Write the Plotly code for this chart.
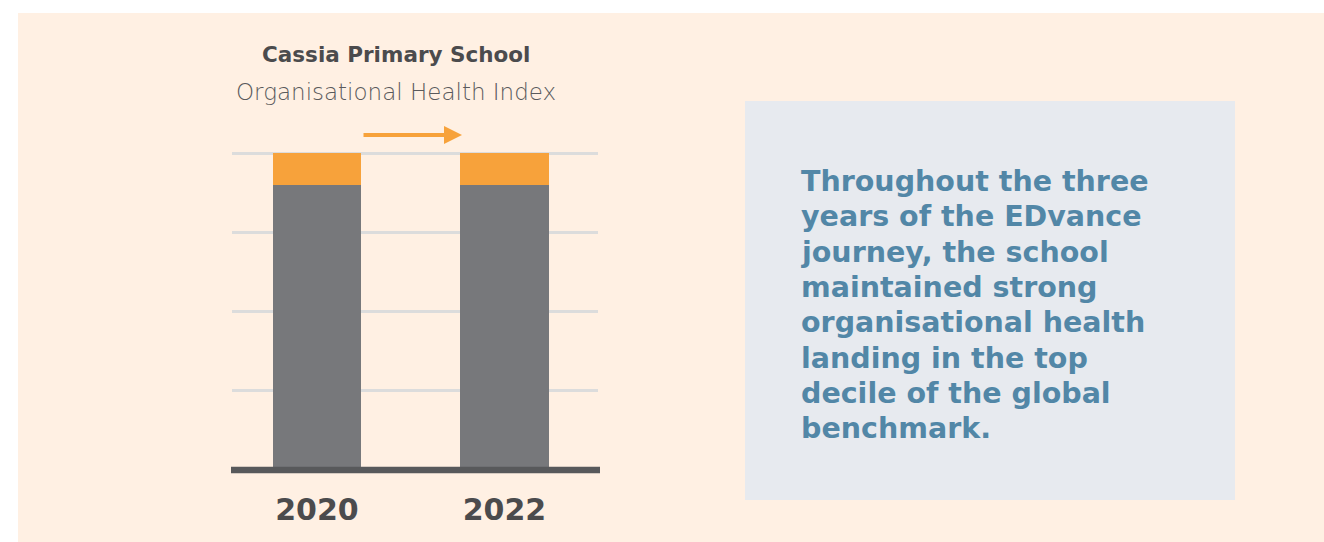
import plotly.graph_objects as go

# ---- data ----
years = ["2020", "2022"]
base_values = [90, 90]      # grey portion
top_values = [10, 10]       # orange portion (top decile)
y_ticks = [25, 50, 75, 100]
title_text = "Cassia Primary School"
subtitle_text = "Organisational Health Index"
note_lines = [
    "Throughout the three",
    "years of the EDvance",
    "journey, the school",
    "maintained strong",
    "organisational health",
    "landing in the top",
    "decile of the global",
    "benchmark.",
]

W, H = 1324, 542
L, R = 232, 598          # plot area x pixels
T, B = 147, 469          # plot area y pixels

def px(x):
    return (x - L) / (R - L)

def py(y):
    return (B - y) / (B - T)

GREY = "#77787b"
ORANGE = "#f7a23b"
PEACH = "#fff0e3"
DARK = "#4b4b4d"

fig = go.Figure()
fig.add_trace(go.Bar(x=[0, 1], y=base_values, marker_color=GREY, width=0.47,
                     marker_line_width=0, hoverinfo="skip"))
fig.add_trace(go.Bar(x=[0, 1], y=top_values, marker_color=ORANGE, width=0.47,
                     marker_line_width=0, hoverinfo="skip"))

shapes = [
    # peach panel
    dict(type="rect", xref="paper", yref="paper", x0=px(18), x1=px(1340),
         y0=py(13), y1=py(560), fillcolor=PEACH, line_width=0, layer="below"),
    # text box
    dict(type="rect", xref="paper", yref="paper", x0=px(745), x1=px(1235),
         y0=py(101), y1=py(500), fillcolor="#e7eaef", line_width=0, layer="below"),
    # baseline
    dict(type="line", xref="paper", yref="paper", x0=px(231), x1=px(600),
         y0=py(470), y1=py(470),
         line=dict(color="#58595b", width=6.5), layer="above"),
]

annotations = [
    dict(text="<b>" + title_text + "</b>", xref="paper", yref="paper",
         x=px(396), y=py(55), showarrow=False, xanchor="center", yanchor="middle",
         font=dict(family="DejaVu Sans", size=21.5, color=DARK)),
    dict(text=subtitle_text, xref="paper", yref="paper",
         x=px(396), y=py(92), showarrow=False, xanchor="center", yanchor="middle",
         font=dict(family="DejaVu Sans", size=23, color="#5a5a5c", weight=200)),
    # arrow
    dict(x=px(462), y=py(135), xref="paper", yref="paper",
         ax=-100, ay=0, axref="pixel", ayref="pixel",
         text="", showarrow=True, arrowhead=2, arrowsize=0.9, arrowwidth=4,
         arrowcolor=ORANGE),
]
for i, line in enumerate(note_lines):
    annotations.append(dict(
        text="<b>" + line + "</b>", xref="paper", yref="paper",
        x=px(799), y=py(181.5 + i * 35.3), showarrow=False,
        xanchor="left", yanchor="middle", align="left",
        font=dict(family="DejaVu Sans", size=28.5, color="#5287a7")))

fig.update_layout(
    width=W, height=H,
    margin=dict(l=L, r=W - R, t=T, b=H - B, pad=0),
    paper_bgcolor="white", plot_bgcolor="rgba(0,0,0,0)",
    barmode="stack", showlegend=False, bargap=0,
    shapes=shapes, annotations=annotations,
    xaxis=dict(range=[-0.453, 1.499], tickvals=[0, 1],
               ticktext=["<b>" + y + "</b>" for y in years],
               tickfont=dict(family="DejaVu Sans", size=30, color=DARK),
               showgrid=False, zeroline=False, showline=False, ticks="",
               ticklabelstandoff=20, fixedrange=True),
    yaxis=dict(range=[0, (B - T) / 3.16], tickvals=y_ticks, showticklabels=False,
               showgrid=True, gridcolor="#dcdcdc", gridwidth=3,
               zeroline=False, showline=False, ticks="", fixedrange=True),
)

fig.write_html(
    "out.html",
    config={"displayModeBar": False},
    post_script="document.body.style.margin='0';document.body.style.overflow='hidden';",
)
